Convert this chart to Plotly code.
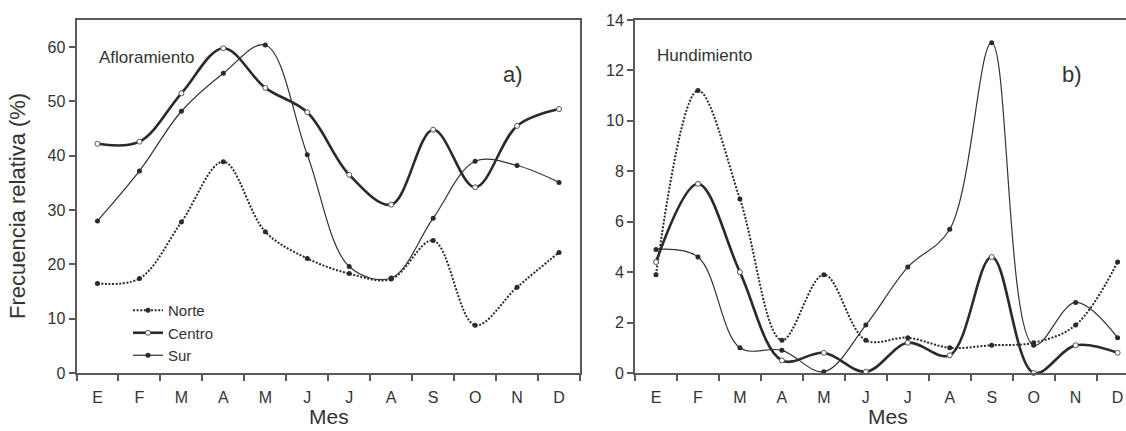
import plotly.graph_objects as go

months = ["E", "F", "M", "A", "M", "J", "J", "A", "S", "O", "N", "D"]
x = list(range(1, 13))

# a) Afloramiento
aflo_norte = [16.5, 17.4, 27.8, 38.9, 26.0, 21.1, 18.3, 17.3, 24.4, 8.8, 15.8, 22.2]
aflo_centro = [42.2, 42.6, 51.5, 59.8, 52.5, 48.0, 36.5, 31.0, 44.8, 34.2, 45.5, 48.6]
aflo_sur = [28.0, 37.2, 48.2, 55.2, 60.4, 40.2, 19.6, 17.5, 28.5, 39.0, 38.2, 35.1]

# b) Hundimiento
hund_norte = [3.9, 11.2, 6.9, 1.3, 3.9, 1.3, 1.4, 1.0, 1.1, 1.2, 1.9, 4.4]
hund_centro = [4.4, 7.5, 4.0, 0.5, 0.8, 0.05, 1.2, 0.7, 4.6, 0.0, 1.1, 0.8]
hund_sur = [4.9, 4.6, 1.0, 0.9, 0.05, 1.9, 4.2, 5.7, 13.1, 1.1, 2.8, 1.4]

W, H = 1126, 431
FONT = "Liberation Sans, Arial, sans-serif"
INK = "#2a2a2a"
AX = "#5a5a5a"
TXT = "#333333"

def px_x(p):
    return p / W

def px_y(p):
    return 1 - p / H

styles = {
    "Norte": dict(line=dict(color=INK, width=2.0, dash="2px,1.6px", shape="spline", smoothing=1.0),
                  marker=dict(symbol="circle", size=5, color=INK, line=dict(width=0))),
    "Centro": dict(line=dict(color=INK, width=2.6, shape="spline", smoothing=1.0),
                   marker=dict(symbol="circle", size=5, color="white", line=dict(width=1, color="#555"))),
    "Sur": dict(line=dict(color="#333333", width=1.2, shape="spline", smoothing=1.0),
                marker=dict(symbol="circle", size=5, color=INK, line=dict(width=0))),
}

fig = go.Figure()
for name, ys in [("Norte", aflo_norte), ("Centro", aflo_centro), ("Sur", aflo_sur)]:
    fig.add_trace(go.Scatter(x=x, y=ys, name=name, mode="lines+markers", xaxis="x", yaxis="y",
                             cliponaxis=False, showlegend=True, **styles[name]))
for name, ys in [("Norte", hund_norte), ("Centro", hund_centro), ("Sur", hund_sur)]:
    fig.add_trace(go.Scatter(x=x, y=ys, name=name, mode="lines+markers", xaxis="x2", yaxis="y2",
                             cliponaxis=False, showlegend=False, **styles[name]))

edges = [i + 0.5 for i in range(0, 13)]

common_x = dict(
    tickmode="array", tickvals=x, ticktext=months, ticks="",
    ticklabelstandoff=9, automargin=False,
    tickfont=dict(family=FONT, size=16, color=TXT),
    showline=True, linecolor=AX, linewidth=2, mirror=True,
    showgrid=False, zeroline=False, fixedrange=True,
    minor=dict(tickmode="array", tickvals=edges, ticks="outside", ticklen=6,
               tickwidth=1.5, tickcolor=AX, showgrid=False),
)
common_y = dict(
    ticks="outside", ticklen=6, tickwidth=1.5, tickcolor=AX, automargin=False,
    tickfont=dict(family=FONT, size=16, color=TXT),
    showline=True, linecolor=AX, linewidth=2,
    showgrid=False, zeroline=False, fixedrange=True,
)

fig.update_layout(
    width=W, height=H,
    margin=dict(l=0, r=0, t=0, b=0, pad=0, autoexpand=False),
    paper_bgcolor="white", plot_bgcolor="white",
    font=dict(family=FONT, color=TXT),
    xaxis=dict(domain=[px_x(76.5), px_x(580)], range=[0.5, 12.5], anchor="y", **common_x),
    yaxis=dict(domain=[px_y(373), px_y(20)], range=[0, 65], tickvals=[0, 10, 20, 30, 40, 50, 60],
               anchor="x", mirror=True, **common_y),
    xaxis2=dict(domain=[px_x(635), 1.0], range=[0.5, 12.2], anchor="y2", **common_x),
    yaxis2=dict(domain=[px_y(373), px_y(20)], range=[0, 14], tickvals=[0, 2, 4, 6, 8, 10, 12, 14],
                anchor="x2", mirror=False, **common_y),
    legend=dict(x=px_x(128), y=px_y(294), xanchor="left", yanchor="top",
                bgcolor="rgba(0,0,0,0)", font=dict(family=FONT, size=15, color=TXT),
                itemwidth=30, tracegroupgap=0),
    showlegend=True,
)

ann = [
    dict(text="Afloramiento", x=px_x(97), y=px_y(57), xanchor="left", yanchor="middle", size=17),
    dict(text="a)", x=px_x(513), y=px_y(74), xanchor="center", yanchor="middle", size=22),
    dict(text="Hundimiento", x=px_x(655), y=px_y(55), xanchor="left", yanchor="middle", size=17),
    dict(text="b)", x=px_x(1072), y=px_y(74), xanchor="center", yanchor="middle", size=22),
    dict(text="Mes", x=px_x(329), y=px_y(416), xanchor="center", yanchor="middle", size=21),
    dict(text="Mes", x=px_x(888), y=px_y(416), xanchor="center", yanchor="middle", size=21),
]
for a in ann:
    fig.add_annotation(text=a["text"], x=a["x"], y=a["y"], xref="paper", yref="paper",
                       xanchor=a["xanchor"], yanchor=a["yanchor"], showarrow=False,
                       font=dict(family=FONT, size=a["size"], color=TXT))
fig.add_annotation(text="Frecuencia relativa (%)", x=px_x(17), y=px_y(206), xref="paper", yref="paper",
                   textangle=-90, showarrow=False, xanchor="center", yanchor="middle",
                   font=dict(family=FONT, size=22, color=TXT))

fig.write_html("out.html")
